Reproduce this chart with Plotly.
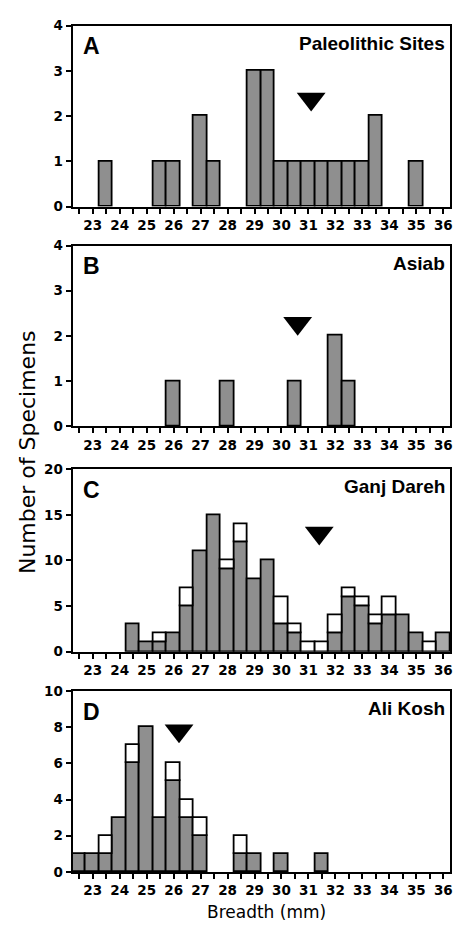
import plotly.graph_objects as go

W, H = 456, 931

# ---------------- data ----------------
breadth_bins = [22.5, 23.0, 23.5, 24.0, 24.5, 25.0, 25.5, 26.0, 26.5, 27.0,
                27.5, 28.0, 28.5, 29.0, 29.5, 30.0, 30.5, 31.0, 31.5, 32.0,
                32.5, 33.0, 33.5, 34.0, 34.5, 35.0, 35.5, 36.0]
x_tick_labels = [23, 24, 25, 26, 27, 28, 29, 30, 31, 32, 33, 34, 35, 36]

panel_letters = ["A", "B", "C", "D"]
panel_titles = ["Paleolithic Sites", "Asiab", "Ganj Dareh", "Ali Kosh"]

# grey (filled) counts per bin
paleo_grey = [0, 0, 1, 0, 0, 0, 1, 1, 0, 2, 1, 0, 0, 3, 3, 1, 1, 1, 1, 1, 1, 1, 2, 0, 0, 1, 0, 0]
asiab_grey = [0, 0, 0, 0, 0, 0, 0, 1, 0, 0, 0, 1, 0, 0, 0, 0, 1, 0, 0, 2, 1, 0, 0, 0, 0, 0, 0, 0]
ganj_grey = [0, 0, 0, 0, 3, 1, 1, 2, 5, 11, 15, 9, 12, 8, 10, 3, 2, 0, 0, 2, 6, 5, 3, 4, 4, 2, 0, 2]
ali_grey = [1, 1, 1, 3, 6, 8, 3, 5, 3, 2, 0, 0, 1, 1, 0, 1, 0, 0, 1, 0, 0, 0, 0, 0, 0, 0, 0, 0]

# total counts per bin (grey + open)
paleo_total = paleo_grey
asiab_total = asiab_grey
ganj_total = [0, 0, 0, 0, 3, 1, 2, 2, 7, 11, 15, 10, 14, 8, 10, 6, 3, 1, 1, 4, 7, 6, 4, 6, 4, 2, 1, 2]
ali_total = [1, 1, 2, 3, 7, 8, 3, 6, 4, 3, 0, 0, 2, 1, 0, 1, 0, 0, 1, 0, 0, 0, 0, 0, 0, 0, 0, 0]

# mean markers (x = mean breadth, y = marker height)
mean_breadth = [31.1, 30.6, 31.4, 26.2]
mean_marker_y = [2.38, 2.28, 13.0, 7.8]

y_max = [4, 4, 20, 10]
y_dtick = [1, 1, 5, 2]

grey_sets = [paleo_grey, asiab_grey, ganj_grey, ali_grey]
total_sets = [paleo_total, asiab_total, ganj_total, ali_total]

# ---------------- layout geometry (pixels) ----------------
plot_left, plot_right = 73, 453
panel_px = [(18, 202), (241.7, 425.7), (469.3, 655), (695, 879)]

GREY = "#8f8f8f"
GREY_LIGHT = "#a9a9a9"
TICK_FONT = dict(family="DejaVu Sans", size=13.5, color="black", weight="bold")


def px_x(p):
    return p / W


def px_y(p):
    return 1 - p / H


fig = go.Figure()
annotations = []

for i in range(4):
    ax = "" if i == 0 else str(i + 1)
    xa, ya = "x" + ax, "y" + ax
    grey = grey_sets[i]
    total = total_sets[i]

    gx = [b for b, g in zip(breadth_bins, grey) if g > 0]
    gy = [g for g in grey if g > 0]
    gcol = [GREY_LIGHT if (i == 2 and b == 36.0) else GREY for b in gx]
    fig.add_trace(go.Bar(x=gx, y=gy, width=0.5, xaxis=xa, yaxis=ya,
                         marker=dict(color=gcol, line=dict(color="black", width=1.8)),
                         showlegend=False, hoverinfo="x+y"))

    wx = [b for b, g, t in zip(breadth_bins, grey, total) if t > g]
    wy = [t - g for g, t in zip(grey, total) if t > g]
    wb = [g for g, t in zip(grey, total) if t > g]
    if wx:
        fig.add_trace(go.Bar(x=wx, y=wy, base=wb, width=0.5, xaxis=xa, yaxis=ya,
                             marker=dict(color="white", line=dict(color="black", width=1.8)),
                             showlegend=False, hoverinfo="x+y"))

    fig.add_trace(go.Scatter(x=[mean_breadth[i]], y=[mean_marker_y[i]], mode="markers",
                             xaxis=xa, yaxis=ya,
                             marker=dict(symbol="triangle-down", size=25, color="black",
                                         line=dict(width=0)),
                             showlegend=False, hoverinfo="x"))

    top, bot = panel_px[i]
    fig.layout["xaxis" + ax] = dict(
        domain=[px_x(plot_left), px_x(plot_right)], anchor=ya,
        range=[22.25, 36.25], tickmode="array", tickvals=x_tick_labels,
        ticktext=[str(v) for v in x_tick_labels],
        ticks="outside", ticklen=5, tickwidth=1.5, tickcolor="black",
        minor=dict(tickmode="linear", tick0=22.5, dtick=0.5, ticks="outside",
                   ticklen=5, tickwidth=1.5, tickcolor="black", showgrid=False),
        showline=True, linewidth=2, linecolor="black", mirror=True,
        showgrid=False, zeroline=False, tickfont=TICK_FONT, fixedrange=True)
    fig.layout["yaxis" + ax] = dict(
        domain=[px_y(bot), px_y(top)], anchor=xa,
        range=[0, y_max[i]], tickmode="linear", tick0=0, dtick=y_dtick[i],
        ticks="outside", ticklen=5, tickwidth=1.5, tickcolor="black",
        showline=True, linewidth=2, linecolor="black", mirror=True,
        showgrid=False, zeroline=False, tickfont=TICK_FONT, fixedrange=True)

    annotations.append(dict(text=panel_letters[i], xref="paper", yref="paper",
                            x=px_x(82), y=px_y(top + 21), xanchor="left", yanchor="middle",
                            showarrow=False,
                            font=dict(family="Liberation Sans", size=23, color="black",
                                      weight="bold")))
    annotations.append(dict(text=panel_titles[i], xref="paper", yref="paper",
                            x=px_x(450), y=px_y(top + 18), xanchor="right", yanchor="middle",
                            showarrow=False,
                            font=dict(family="Liberation Sans", size=19, color="black",
                                      weight="bold")))

annotations.append(dict(text="Number of Specimens", xref="paper", yref="paper",
                        x=px_x(27), y=px_y(452), xanchor="center", yanchor="middle",
                        textangle=-90, showarrow=False,
                        font=dict(family="DejaVu Sans", size=22, color="black")))
annotations.append(dict(text="Breadth (mm)", xref="paper", yref="paper",
                        x=px_x(268), y=px_y(920), xanchor="center", yanchor="middle",
                        showarrow=False,
                        font=dict(family="DejaVu Sans", size=17, color="black")))

fig.update_layout(width=W, height=H, margin=dict(l=0, r=0, t=0, b=0),
                  paper_bgcolor="white", plot_bgcolor="white",
                  barmode="overlay", bargap=0, annotations=annotations,
                  showlegend=False)

fig.write_html("out.html", config={"displayModeBar": False},
               post_script="document.body.style.margin='0';document.body.style.padding='0';"
                           "document.documentElement.style.overflow='hidden';")
